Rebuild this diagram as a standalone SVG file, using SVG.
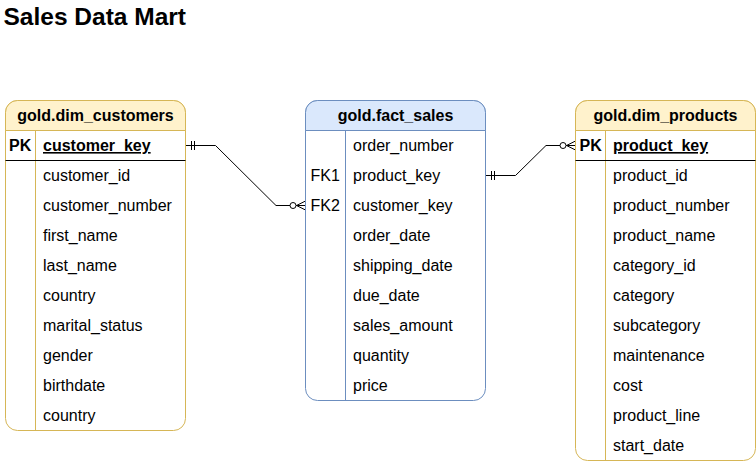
<svg xmlns="http://www.w3.org/2000/svg" width="756" height="461" viewBox="0 0 756 461">
  <style>
    text { font-family: "Liberation Sans", Arial, Helvetica, sans-serif; font-size: 16px; fill: #000; }
    .title { font-size: 24.5px; font-weight: bold; }
    .hdr { font-weight: bold; text-anchor: middle; }
    .key { font-weight: bold; }
    .pk { font-weight: bold; text-decoration: underline; }
    .dim .body { fill: #ffffff; stroke: #d6b656; stroke-width: 1; }
    .dim .head { fill: #fff2cc; stroke: #d6b656; stroke-width: 1; }
    .dim .div { stroke: #d6b656; stroke-width: 1; }
    .fact .body { fill: #ffffff; stroke: #6c8ebf; stroke-width: 1; }
    .fact .head { fill: #dae8fc; stroke: #6c8ebf; stroke-width: 1; }
    .fact .div { stroke: #6c8ebf; stroke-width: 1; }
    .sep { stroke: #000; stroke-width: 1; }
    .edge { fill: none; stroke: #000; stroke-width: 1; }
  </style>
  <defs>
    <marker id="mandOne" markerUnits="userSpaceOnUse" viewBox="-20 -10 20 20" markerWidth="20" markerHeight="20" refX="0" refY="0" orient="auto-start-reverse" overflow="visible">
      <path d="M-6,-4.5 V4.5 M-9,-4.5 V4.5" fill="none" stroke="#000" stroke-width="1"/>
    </marker>
    <marker id="zeroMany" markerUnits="userSpaceOnUse" viewBox="-20 -10 20 20" markerWidth="20" markerHeight="20" refX="0" refY="0" orient="auto" overflow="visible">
      <path d="M0,-4.5 L-9,0 L0,4.5" fill="none" stroke="#000" stroke-width="1"/>
      <circle cx="-12.5" cy="0" r="3" fill="#fff" stroke="#000" stroke-width="1"/>
    </marker>
  </defs>

  <text class="title" x="3.5" y="25">Sales Data Mart</text>

  <g id="connectors">
    <path class="edge" d="M185.5,145.5 H215.5 L276,205.5 H305.5" marker-start="url(#mandOne)" marker-end="url(#zeroMany)"/>
    <path class="edge" d="M485.5,175.5 H515.5 L546,145.5 H575.5" marker-start="url(#mandOne)" marker-end="url(#zeroMany)"/>
  </g>

  <g id="dim_customers" class="dim">
    <rect class="body" x="5.5" y="100.5" width="180" height="330" rx="12" ry="12"/>
    <path class="head" d="M5.5,130.5 V112.5 A12,12 0 0 1 17.5,100.5 H173.5 A12,12 0 0 1 185.5,112.5 V130.5 Z"/>
    <line class="div" x1="35.5" y1="130.5" x2="35.5" y2="430.5"/>
    <line class="sep" x1="5.5" y1="160.5" x2="185.5" y2="160.5"/>
    <text class="hdr" x="95.5" y="121">gold.dim_customers</text>
    <text class="key" x="9" y="151">PK</text>
    <text class="pk" x="43" y="151">customer_key</text>
    <text x="43" y="181">customer_id</text>
    <text x="43" y="211">customer_number</text>
    <text x="43" y="241">first_name</text>
    <text x="43" y="271">last_name</text>
    <text x="43" y="301">country</text>
    <text x="43" y="331">marital_status</text>
    <text x="43" y="361">gender</text>
    <text x="43" y="391">birthdate</text>
    <text x="43" y="421">country</text>
  </g>

  <g id="fact_sales" class="fact">
    <rect class="body" x="305.5" y="100.5" width="180" height="300" rx="12" ry="12"/>
    <path class="head" d="M305.5,130.5 V112.5 A12,12 0 0 1 317.5,100.5 H473.5 A12,12 0 0 1 485.5,112.5 V130.5 Z"/>
    <line class="div" x1="345.5" y1="130.5" x2="345.5" y2="400.5"/>
    <text class="hdr" x="395.5" y="121">gold.fact_sales</text>
    <text x="353" y="151">order_number</text>
    <text x="310.5" y="181">FK1</text>
    <text x="353" y="181">product_key</text>
    <text x="310.5" y="211">FK2</text>
    <text x="353" y="211">customer_key</text>
    <text x="353" y="241">order_date</text>
    <text x="353" y="271">shipping_date</text>
    <text x="353" y="301">due_date</text>
    <text x="353" y="331">sales_amount</text>
    <text x="353" y="361">quantity</text>
    <text x="353" y="391">price</text>
  </g>

  <g id="dim_products" class="dim">
    <rect class="body" x="575.5" y="100.5" width="180" height="360" rx="12" ry="12"/>
    <path class="head" d="M575.5,130.5 V112.5 A12,12 0 0 1 587.5,100.5 H743.5 A12,12 0 0 1 755.5,112.5 V130.5 Z"/>
    <line class="div" x1="605.5" y1="130.5" x2="605.5" y2="460.5"/>
    <line class="sep" x1="575.5" y1="160.5" x2="755.5" y2="160.5"/>
    <text class="hdr" x="665.5" y="121">gold.dim_products</text>
    <text class="key" x="579.5" y="151">PK</text>
    <text class="pk" x="613" y="151">product_key</text>
    <text x="613" y="181">product_id</text>
    <text x="613" y="211">product_number</text>
    <text x="613" y="241">product_name</text>
    <text x="613" y="271">category_id</text>
    <text x="613" y="301">category</text>
    <text x="613" y="331">subcategory</text>
    <text x="613" y="361">maintenance</text>
    <text x="613" y="391">cost</text>
    <text x="613" y="421">product_line</text>
    <text x="613" y="451">start_date</text>
  </g>
</svg>
